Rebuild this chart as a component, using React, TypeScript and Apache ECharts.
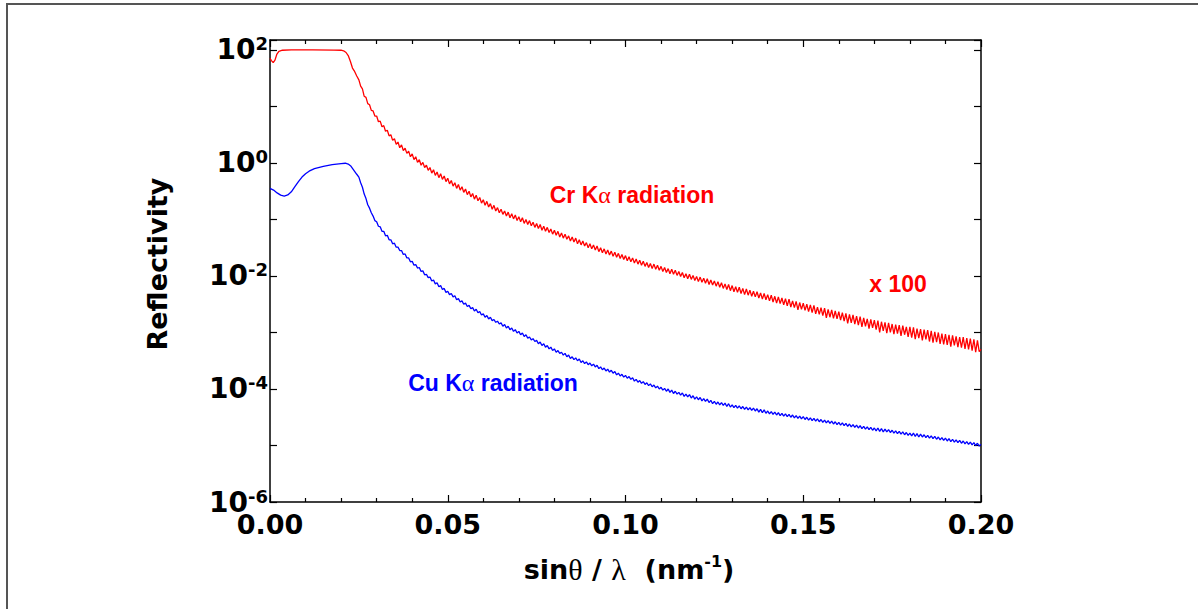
import React, { useEffect, useRef } from 'react';
import * as echarts from 'echarts';

// ---- Data (reflectivity stored as log10) ----
// Low-angle part: [sinθ/λ (nm^-1), log10(R)]
const crHead: [number, number][] = [
  [0.0, 1.85], [0.0004, 1.81], [0.0009, 1.775], [0.0014, 1.82], [0.0019, 1.92], [0.0025, 1.975],
  [0.0035, 1.995], [0.006, 2.0], [0.012, 2.0], [0.018, 1.998], [0.02, 1.995], [0.0207, 1.985],
  [0.0214, 1.955], [0.022, 1.9], [0.0226, 1.8], [0.0232, 1.68], [0.0238, 1.62], [0.0244, 1.54],
];
const cuHead: [number, number][] = [
  [0.0, -0.45], [0.001, -0.48], [0.002, -0.53], [0.003, -0.57], [0.004, -0.585], [0.005, -0.565],
  [0.006, -0.51], [0.007, -0.42], [0.008, -0.33], [0.009, -0.25], [0.01, -0.19], [0.011, -0.145],
  [0.0125, -0.1], [0.015, -0.06], [0.0175, -0.03], [0.02, -0.01], [0.0212, -0.005], [0.022, -0.02],
  [0.0228, -0.06], [0.0236, -0.13], [0.0244, -0.2],
];

// Fringe region sampled every 0.0005 nm^-1 from 0.025 to 0.200 (log10 R)
const FRINGE_X0 = 0.025;
const FRINGE_STEP = 0.0005;
const crFringe: number[] = [
  1.47, 1.36, 1.31, 1.18, 1.16, 1.05, 1.03, 0.93, 0.92, 0.83,
  0.83, 0.73, 0.74, 0.64, 0.66, 0.56, 0.58, 0.48, 0.5, 0.4,
  0.43, 0.33, 0.37, 0.27, 0.32, 0.22, 0.26, 0.17, 0.21, 0.11,
  0.16, 0.06, 0.11, 0.01, 0.06, -0.04, 0.01, -0.08, -0.04, -0.13,
  -0.08, -0.18, -0.12, -0.22, -0.16, -0.26, -0.19, -0.29, -0.23, -0.33,
  -0.27, -0.37, -0.31, -0.41, -0.35, -0.45, -0.38, -0.48, -0.42, -0.52,
  -0.46, -0.56, -0.5, -0.6, -0.54, -0.64, -0.57, -0.67, -0.61, -0.71,
  -0.65, -0.75, -0.68, -0.78, -0.72, -0.82, -0.75, -0.85, -0.79, -0.88,
  -0.82, -0.91, -0.85, -0.94, -0.87, -0.97, -0.9, -0.99, -0.92, -1.02,
  -0.95, -1.04, -0.97, -1.07, -1.0, -1.09, -1.02, -1.11, -1.05, -1.14,
  -1.07, -1.16, -1.09, -1.19, -1.12, -1.21, -1.14, -1.23, -1.17, -1.26,
  -1.19, -1.28, -1.21, -1.31, -1.24, -1.33, -1.26, -1.35, -1.29, -1.38,
  -1.31, -1.4, -1.33, -1.43, -1.36, -1.45, -1.38, -1.47, -1.41, -1.5,
  -1.43, -1.52, -1.45, -1.54, -1.47, -1.57, -1.5, -1.59, -1.52, -1.61,
  -1.54, -1.63, -1.56, -1.65, -1.58, -1.67, -1.6, -1.69, -1.62, -1.71,
  -1.64, -1.73, -1.66, -1.75, -1.68, -1.77, -1.7, -1.79, -1.72, -1.81,
  -1.74, -1.83, -1.76, -1.85, -1.78, -1.87, -1.79, -1.88, -1.81, -1.9,
  -1.83, -1.92, -1.85, -1.94, -1.87, -1.96, -1.88, -1.97, -1.9, -1.99,
  -1.92, -2.01, -1.94, -2.03, -1.96, -2.05, -1.97, -2.06, -1.99, -2.08,
  -2.01, -2.1, -2.02, -2.11, -2.04, -2.13, -2.05, -2.15, -2.07, -2.16,
  -2.09, -2.18, -2.1, -2.2, -2.12, -2.22, -2.14, -2.24, -2.15, -2.26,
  -2.17, -2.28, -2.19, -2.29, -2.2, -2.31, -2.22, -2.33, -2.23, -2.34,
  -2.25, -2.36, -2.27, -2.37, -2.28, -2.39, -2.3, -2.41, -2.31, -2.42,
  -2.33, -2.44, -2.34, -2.46, -2.36, -2.48, -2.37, -2.49, -2.39, -2.51,
  -2.4, -2.53, -2.41, -2.55, -2.44, -2.56, -2.45, -2.6, -2.47, -2.59,
  -2.48, -2.61, -2.5, -2.63, -2.51, -2.65, -2.52, -2.67, -2.55, -2.68,
  -2.56, -2.7, -2.57, -2.74, -2.59, -2.73, -2.6, -2.75, -2.62, -2.76,
  -2.63, -2.78, -2.65, -2.8, -2.66, -2.84, -2.68, -2.83, -2.69, -2.85,
  -2.71, -2.87, -2.72, -2.9, -2.74, -2.89, -2.76, -2.93, -2.77, -2.92,
  -2.78, -2.95, -2.79, -3.0, -2.81, -2.97, -2.82, -3.01, -2.83, -3.0,
  -2.85, -3.03, -2.86, -3.02, -2.87, -3.06, -2.88, -3.04, -2.9, -3.08,
  -2.9, -3.09, -2.91, -3.12, -2.93, -3.1, -2.94, -3.14, -2.95, -3.12,
  -2.96, -3.16, -2.97, -3.18, -2.99, -3.17, -3.0, -3.2, -3.02, -3.21,
  -3.03, -3.22, -3.04, -3.25, -3.05, -3.23, -3.07, -3.26, -3.08, -3.27,
  -3.08, -3.29, -3.1, -3.3, -3.11, -3.32, -3.12, -3.35, -3.14, -3.34,
  -3.3,
];
const cuFringe: number[] = [
  -0.25, -0.35, -0.43, -0.55, -0.63, -0.74, -0.8, -0.88, -0.94, -1.02,
  -1.04, -1.12, -1.13, -1.21, -1.21, -1.29, -1.28, -1.36, -1.36, -1.43,
  -1.42, -1.49, -1.49, -1.55, -1.55, -1.62, -1.61, -1.68, -1.68, -1.75,
  -1.74, -1.81, -1.8, -1.86, -1.85, -1.92, -1.91, -1.98, -1.97, -2.03,
  -2.02, -2.09, -2.07, -2.14, -2.12, -2.19, -2.17, -2.24, -2.22, -2.29,
  -2.27, -2.33, -2.31, -2.37, -2.35, -2.42, -2.4, -2.46, -2.44, -2.5,
  -2.48, -2.54, -2.52, -2.58, -2.56, -2.62, -2.59, -2.65, -2.63, -2.69,
  -2.67, -2.73, -2.7, -2.76, -2.73, -2.79, -2.77, -2.82, -2.8, -2.85,
  -2.83, -2.89, -2.86, -2.92, -2.89, -2.95, -2.92, -2.98, -2.95, -3.01,
  -2.98, -3.04, -3.01, -3.07, -3.04, -3.1, -3.08, -3.13, -3.11, -3.16,
  -3.14, -3.2, -3.17, -3.23, -3.2, -3.26, -3.23, -3.29, -3.26, -3.32,
  -3.29, -3.35, -3.32, -3.37, -3.35, -3.4, -3.37, -3.43, -3.4, -3.46,
  -3.43, -3.48, -3.45, -3.5, -3.47, -3.53, -3.5, -3.55, -3.52, -3.57,
  -3.54, -3.59, -3.56, -3.61, -3.58, -3.64, -3.61, -3.66, -3.63, -3.68,
  -3.65, -3.7, -3.67, -3.72, -3.69, -3.75, -3.72, -3.77, -3.74, -3.79,
  -3.76, -3.81, -3.78, -3.83, -3.8, -3.86, -3.83, -3.88, -3.85, -3.9,
  -3.87, -3.92, -3.89, -3.94, -3.91, -3.96, -3.93, -3.98, -3.95, -4.0,
  -3.97, -4.02, -3.99, -4.04, -4.0, -4.06, -4.02, -4.08, -4.04, -4.09,
  -4.06, -4.11, -4.07, -4.13, -4.09, -4.14, -4.1, -4.16, -4.12, -4.18,
  -4.14, -4.19, -4.15, -4.21, -4.17, -4.22, -4.18, -4.24, -4.2, -4.26,
  -4.22, -4.27, -4.23, -4.28, -4.24, -4.29, -4.25, -4.31, -4.26, -4.32,
  -4.28, -4.33, -4.29, -4.34, -4.3, -4.35, -4.31, -4.36, -4.32, -4.37,
  -4.33, -4.38, -4.34, -4.39, -4.35, -4.41, -4.36, -4.42, -4.37, -4.43,
  -4.39, -4.44, -4.4, -4.45, -4.41, -4.46, -4.42, -4.47, -4.43, -4.48,
  -4.44, -4.49, -4.45, -4.5, -4.46, -4.51, -4.47, -4.52, -4.48, -4.53,
  -4.49, -4.54, -4.5, -4.55, -4.51, -4.56, -4.52, -4.57, -4.53, -4.58,
  -4.54, -4.59, -4.55, -4.6, -4.56, -4.61, -4.57, -4.62, -4.58, -4.63,
  -4.59, -4.64, -4.6, -4.65, -4.61, -4.66, -4.62, -4.67, -4.63, -4.68,
  -4.64, -4.69, -4.65, -4.7, -4.66, -4.71, -4.67, -4.72, -4.68, -4.73,
  -4.69, -4.74, -4.69, -4.75, -4.7, -4.76, -4.71, -4.76, -4.72, -4.77,
  -4.73, -4.78, -4.74, -4.79, -4.75, -4.8, -4.76, -4.81, -4.77, -4.82,
  -4.78, -4.83, -4.78, -4.84, -4.79, -4.85, -4.8, -4.85, -4.81, -4.86,
  -4.82, -4.87, -4.83, -4.88, -4.84, -4.89, -4.85, -4.9, -4.86, -4.91,
  -4.87, -4.92, -4.88, -4.93, -4.89, -4.94, -4.9, -4.95, -4.91, -4.96,
  -4.92, -4.97, -4.93, -4.98, -4.94, -4.99, -4.95, -5.0, -4.96, -5.01,
  -4.98,
];

const yLabelExponents = [-6, -4, -2, 0, 2];
const X_MIN = 0;
const X_MAX = 0.2;
const X_INTERVAL = 0.05;
const Y_MIN = 1e-6;
const Y_MAX = 150;

const seriesNames = ['Cr Kα radiation (x 100)', 'Cu Kα radiation'];
const seriesColors = ['#ff0000', '#0000ff'];

const AXIS_FONT = "'DejaVu Sans', sans-serif";
const NOTE_FONT = "'Liberation Sans', Arial, sans-serif";
const GREEK_FONT = "'Liberation Serif', 'DejaVu Serif', serif";

function build(head: [number, number][], fringe: number[]): [number, number][] {
  const a: [number, number][] = head.map(([x, l]) => [x, Math.pow(10, l)]);
  fringe.forEach((l, i) => {
    const x = +(FRINGE_X0 + i * FRINGE_STEP).toFixed(4);
    a.push([x, Math.pow(10, l)]);
  });
  return a;
}

export default function App() {
  const ref = useRef<HTMLDivElement>(null);
  useEffect(() => {
    if (!ref.current) return;
    const chart = echarts.init(ref.current, null, { renderer: 'svg' });
    const axisLine = { show: true, onZero: false, lineStyle: { color: '#000', width: 1.5 } };
    const xCommon = {
      type: 'value',
      min: X_MIN,
      max: X_MAX,
      interval: X_INTERVAL,
      axisLine,
      axisTick: { show: true, inside: true, length: 7, lineStyle: { color: '#000', width: 1.2 } },
      minorTick: { show: true, splitNumber: 5, length: 4, lineStyle: { color: '#000', width: 1.2 } },
      splitLine: { show: false },
      minorSplitLine: { show: false },
    };
    const yCommon = {
      type: 'log',
      logBase: 10,
      min: Y_MIN,
      max: Y_MAX,
      splitNumber: 8,
      axisLine,
      axisTick: { show: true, inside: true, length: 7, lineStyle: { color: '#000', width: 1.2 } },
      splitLine: { show: false },
      minorTick: { show: false },
    };
    const option: any = {
      animation: false,
      backgroundColor: '#ffffff',
      grid: { left: 270, right: 217, top: 40, bottom: 107, containLabel: false, outerBoundsMode: 'none' },
      xAxis: [
        {
          ...xCommon,
          position: 'bottom',
          axisLabel: {
            show: true,
            margin: 9,
            color: '#000',
            fontFamily: AXIS_FONT,
            fontWeight: 'bold',
            fontSize: 27,
            showMinLabel: true,
            showMaxLabel: true,
            formatter: (v: number) => v.toFixed(2),
          },
        },
        { ...xCommon, position: 'top', axisLabel: { show: false } },
      ],
      yAxis: [
        {
          ...yCommon,
          position: 'left',
          axisLabel: {
            show: true,
            margin: 2,
            color: '#000',
            fontFamily: AXIS_FONT,
            fontWeight: 'bold',
            fontSize: 28,
            showMinLabel: true,
            showMaxLabel: true,
            formatter: (v: number) => {
              const e = Math.log10(v);
              const r = Math.round(e);
              if (Math.abs(e - r) > 1e-6 || yLabelExponents.indexOf(r) < 0) return '';
              return `{b|10}{s|${r}}`;
            },
            rich: {
              b: { fontFamily: AXIS_FONT, fontWeight: 'bold', fontSize: 28, lineHeight: 30, color: '#000' },
              s: { fontFamily: AXIS_FONT, fontWeight: 'bold', fontSize: 18, lineHeight: 18, verticalAlign: 'top', color: '#000' },
            },
          },
        },
        { ...yCommon, position: 'right', axisLabel: { show: false } },
      ],
      series: [
        {
          name: seriesNames[0],
          type: 'line',
          data: build(crHead, crFringe),
          showSymbol: false,
          symbol: 'none',
          lineStyle: { color: seriesColors[0], width: 1.3 },
          itemStyle: { color: seriesColors[0] },
          xAxisIndex: 0,
          yAxisIndex: 0,
        },
        {
          name: seriesNames[1],
          type: 'line',
          data: build(cuHead, cuFringe),
          showSymbol: false,
          symbol: 'none',
          lineStyle: { color: seriesColors[1], width: 1.3 },
          itemStyle: { color: seriesColors[1] },
          xAxisIndex: 0,
          yAxisIndex: 0,
        },
      ],
      graphic: [
        { type: 'line', shape: { x1: 7, y1: 4, x2: 1198, y2: 4 }, style: { stroke: '#555', lineWidth: 2 } },
        { type: 'line', shape: { x1: 7, y1: 3, x2: 7, y2: 609 }, style: { stroke: '#555', lineWidth: 2 } },
        {
          type: 'text',
          x: 157,
          y: 264,
          rotation: Math.PI / 2,
          style: {
            text: 'Reflectivity',
            fill: '#000',
            fontFamily: AXIS_FONT,
            fontWeight: 'bold',
            fontSize: 27,
            align: 'center',
            verticalAlign: 'middle',
          },
        },
        {
          type: 'text',
          x: 629,
          y: 569,
          style: {
            text: 'sin{g|θ} / {g|λ}  (nm{s|-1})',
            fill: '#000',
            fontFamily: AXIS_FONT,
            fontWeight: 'bold',
            fontSize: 27,
            lineHeight: 32,
            align: 'center',
            verticalAlign: 'middle',
            rich: {
              g: { fontFamily: GREEK_FONT, fontWeight: 'normal', fontSize: 30, lineHeight: 32, fill: '#000' },
              s: { fontFamily: AXIS_FONT, fontWeight: 'bold', fontSize: 16, lineHeight: 16, verticalAlign: 'top', fill: '#000' },
            },
          },
        },
        {
          type: 'text',
          x: 632,
          y: 195,
          style: {
            text: 'Cr K{a|α} radiation',
            fill: seriesColors[0],
            fontFamily: NOTE_FONT,
            fontWeight: 'bold',
            fontSize: 23,
            align: 'center',
            verticalAlign: 'middle',
            rich: { a: { fontFamily: GREEK_FONT, fontWeight: 'normal', fontSize: 24, fill: seriesColors[0] } },
          },
        },
        {
          type: 'text',
          x: 898,
          y: 284,
          style: {
            text: 'x 100',
            fill: seriesColors[0],
            fontFamily: NOTE_FONT,
            fontWeight: 'bold',
            fontSize: 23,
            align: 'center',
            verticalAlign: 'middle',
          },
        },
        {
          type: 'text',
          x: 493,
          y: 383,
          style: {
            text: 'Cu K{a|α} radiation',
            fill: seriesColors[1],
            fontFamily: NOTE_FONT,
            fontWeight: 'bold',
            fontSize: 23,
            align: 'center',
            verticalAlign: 'middle',
            rich: { a: { fontFamily: GREEK_FONT, fontWeight: 'normal', fontSize: 24, fill: seriesColors[1] } },
          },
        },
      ],
    };
    chart.setOption(option);
    return () => chart.dispose();
  }, []);
  return (
    <div
      ref={ref}
      style={{ position: 'fixed', left: 0, top: 0, width: 1198, height: 609, background: '#fff' }}
    />
  );
}
